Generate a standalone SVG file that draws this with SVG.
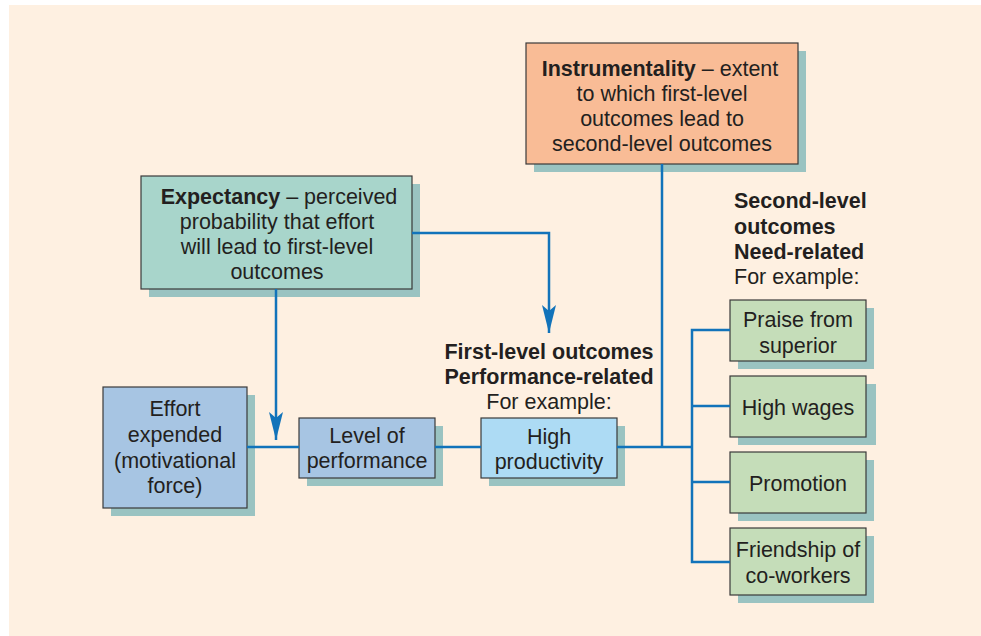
<svg xmlns="http://www.w3.org/2000/svg" width="981" height="636" viewBox="0 0 981 636">
  <defs>
    <style>
      .shadow { fill: #9AC3C1; }
      .box { stroke: #3a3a3a; stroke-width: 1.2; }
      .t { font-family: "Liberation Sans", Arial, sans-serif; font-size: 21.5px; fill: #231F20; text-anchor: middle; }
      .b { font-weight: bold; }
      .l { text-anchor: start; }
      .wire { fill: none; stroke: #1273BA; stroke-width: 2.5; }
    </style>
    <marker id="arrow" viewBox="0 0 28 14" refX="28" refY="7" markerWidth="28" markerHeight="14" markerUnits="userSpaceOnUse" orient="auto">
      <path d="M0,0 L6,7 L0,14 L28,7 Z" fill="#1273BA"/>
    </marker>
  </defs>

  <rect x="0" y="0" width="981" height="636" fill="#ffffff"/>
  <rect x="9" y="5" width="972" height="631" fill="#FEF0E1"/>

  <g id="instrumentality">
    <rect class="shadow" x="534" y="51" width="272" height="121"/>
    <rect class="box" x="526" y="43" width="272" height="121" fill="#F9BC96"/>
    <text class="t" x="660" y="76"><tspan class="b">Instrumentality</tspan> – extent</text>
    <text class="t" x="662" y="101">to which first-level</text>
    <text class="t" x="662" y="126">outcomes lead to</text>
    <text class="t" x="662" y="151">second-level outcomes</text>
  </g>

  <g id="expectancy">
    <rect class="shadow" x="149" y="184" width="271" height="113"/>
    <rect class="box" x="141" y="176" width="271" height="113" fill="#A8D5CB"/>
    <text class="t" x="279" y="204"><tspan class="b">Expectancy</tspan> – perceived</text>
    <text class="t" x="277" y="229">probability that effort</text>
    <text class="t" x="277" y="254">will lead to first-level</text>
    <text class="t" x="277" y="279">outcomes</text>
  </g>

  <g id="effort">
    <rect class="shadow" x="111" y="395" width="144" height="121"/>
    <rect class="box" x="103" y="387" width="144" height="121" fill="#A7C5E3"/>
    <text class="t" x="175" y="416">Effort</text>
    <text class="t" x="175" y="442">expended</text>
    <text class="t" x="175" y="468">(motivational</text>
    <text class="t" x="175" y="493">force)</text>
  </g>

  <g id="performance">
    <rect class="shadow" x="307" y="426" width="136" height="60"/>
    <rect class="box" x="299" y="418" width="136" height="60" fill="#A7C5E3"/>
    <text class="t" x="367" y="443">Level of</text>
    <text class="t" x="367" y="468">performance</text>
  </g>

  <g id="first-level-label">
    <text class="t b" x="549" y="359">First-level outcomes</text>
    <text class="t b" x="549" y="384">Performance-related</text>
    <text class="t" x="549" y="409">For example:</text>
  </g>

  <g id="productivity">
    <rect class="shadow" x="489" y="426" width="136" height="60"/>
    <rect class="box" x="481" y="418" width="136" height="60" fill="#ADDBF4"/>
    <text class="t" x="549" y="444">High</text>
    <text class="t" x="549" y="469">productivity</text>
  </g>

  <g id="second-level-label">
    <text class="t b l" x="734" y="208">Second-level</text>
    <text class="t b l" x="734" y="234">outcomes</text>
    <text class="t b l" x="734" y="259">Need-related</text>
    <text class="t l" x="734" y="284">For example:</text>
  </g>

  <g id="praise">
    <rect class="shadow" x="738" y="308" width="136" height="61"/>
    <rect class="box" x="730" y="300" width="136" height="61" fill="#C5DDB9"/>
    <text class="t" x="798" y="327">Praise from</text>
    <text class="t" x="798" y="353">superior</text>
  </g>

  <g id="wages">
    <rect class="shadow" x="738" y="384" width="138" height="61"/>
    <rect class="box" x="730" y="376" width="136" height="61" fill="#C5DDB9"/>
    <text class="t" x="798" y="415">High wages</text>
  </g>

  <g id="promotion">
    <rect class="shadow" x="738" y="460" width="136" height="61"/>
    <rect class="box" x="730" y="452" width="136" height="61" fill="#C5DDB9"/>
    <text class="t" x="798" y="491">Promotion</text>
  </g>

  <g id="friendship">
    <rect class="shadow" x="738" y="536" width="136" height="67"/>
    <rect class="box" x="730" y="528" width="136" height="67" fill="#C5DDB9"/>
    <text class="t" x="798" y="557">Friendship of</text>
    <text class="t" x="798" y="583">co-workers</text>
  </g>

  <!-- connectors drawn last so they sit on top of the drop shadows -->
  <g id="connectors">
    <line class="wire" x1="247" y1="447" x2="299" y2="447"/>
    <line class="wire" x1="435" y1="447" x2="481" y2="447"/>
    <line class="wire" x1="617" y1="447" x2="692" y2="447"/>
    <line class="wire" x1="662" y1="164" x2="662" y2="447"/>
    <polyline class="wire" points="730,330 692,330 692,562 730,562"/>
    <line class="wire" x1="692" y1="406" x2="730" y2="406"/>
    <line class="wire" x1="692" y1="482" x2="730" y2="482"/>
    <line class="wire" x1="276" y1="289" x2="276" y2="440" marker-end="url(#arrow)"/>
    <polyline class="wire" points="412,233 549,233 549,333" marker-end="url(#arrow)"/>
  </g>
</svg>
